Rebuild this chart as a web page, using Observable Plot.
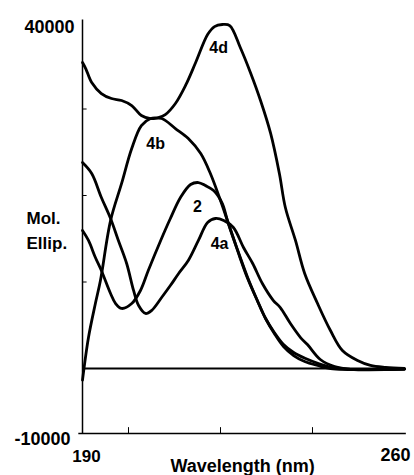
<!DOCTYPE html>
<html>
<head>
<meta charset="utf-8">
<script src="https://cdn.jsdelivr.net/npm/d3@7"></script>
<script src="https://cdn.jsdelivr.net/npm/@observablehq/plot@0.6"></script>
<style>
  html, body { margin: 0; padding: 0; background: #fff; }
  svg { display: block; }
</style>
</head>
<body>
<div id="chart"></div>
<script>
// Wavelength (nm), molar ellipticity
const series4d = [[190,-1800],[191.3,3580],[192.8,7510],[193.9,10170],[196.1,17100],[198.5,21390],[200.7,25430],[202.8,28090],[204.8,28900],[206.5,29020],[208.0,29360],[210.2,30640],[212.4,32720],[214.6,35370],[217.2,38610],[218.7,39530],[220.4,39770],[222.0,39650],[224.3,37110],[226.5,34220],[228.7,30980],[230.9,27170],[232.8,22540],[234.1,18610],[236.3,14800],[238.3,10980],[241.1,7510],[243.9,4390],[246.5,2080],[249.8,920],[252.6,350],[255.9,120],[260,0]];
const series4b = [[190,35370],[190.7,34680],[192.0,33060],[194.1,31790],[196.3,31210],[198.5,30980],[200.7,30400],[202.8,29250],[204.8,28900],[207.2,28900],[210.2,27740],[213.0,26590],[215.7,24850],[217.8,22540],[220.0,19420],[221.5,17110],[223.0,14800],[224.3,12720],[225.9,10400],[228.0,7860],[229.8,5780],[231.7,4160],[233.7,2770],[235.9,1850],[238.5,1160],[241.3,580],[244.3,120],[248.3,-120],[260,-100]];
const series2 = [[190,15950],[191.3,14800],[192.8,12830],[194.1,11330],[196.1,8670],[197.2,7510],[198.5,6940],[200.7,7510],[202.6,9020],[204.3,11330],[207.0,14800],[209.1,17340],[211.3,19770],[213.5,21270],[215.2,21500],[216.7,21150],[218.5,20580],[220.4,19070],[221.5,17110],[222.8,15030],[224.3,12830],[225.9,10520],[228.0,7860],[229.8,5780],[231.7,4050],[233.7,2540],[235.9,1500],[238.3,810],[241.1,350],[243.9,0],[260,-100]];
const series4a = [[190,23810],[192.0,22540],[194.1,19770],[196.1,17340],[197.8,14800],[199.6,12140],[201.1,9020],[202.2,7280],[203.7,6360],[205.0,6700],[207.2,8210],[209.1,9590],[210.9,10980],[213.0,12480],[215.2,14800],[217.2,16880],[218.9,17340],[220.7,17110],[222.8,16300],[225.0,13990],[227.0,12140],[229.1,9830],[231.5,7860],[233.0,7050],[235.2,5200],[237.4,3580],[238.9,2770],[241.7,1040],[244.8,230],[248.3,-120],[260,-100]];

const seriesNames = ["4d", "4b", "2", "4a"];
// label anchor (wavelength, ellipticity) for each series name
const seriesLabelAt = [[219.6, 37100], [205.9, 26000], [215.0, 18700], [219.8, 14450]];

const yTickValues = [40000, -10000];
const yTickLabels = ["40000", "-10000"];
const yMinorTicks = [10000, 20000, 30000];
const xTickValues = [190, 260];
const xTickLabels = ["190", "260"];
const xMinorTicks = [200, 220, 240];
const xTitle = "Wavelength (nm)";
const yTitle = ["Mol.", "Ellip."];
const yTitleAt = [17300, 14400];

const toRows = (arr, name) => arr.map(([x, y]) => ({x, y, name}));
const allSeries = [series4d, series4b, series2, series4a];
const rows = allSeries.flatMap((s, i) => toRows(s, seriesNames[i]));
const labelRows = seriesNames.map((n, i) => ({name: n, x: seriesLabelAt[i][0], y: seriesLabelAt[i][1]}));

const font = "'Liberation Sans', Arial, Helvetica, sans-serif";
const bold = {fontWeight: "bold", fill: "#000"};

const chart = Plot.plot({
  width: 414,
  height: 475,
  marginLeft: 0, marginRight: 0, marginTop: 0, marginBottom: 0,
  style: {fontFamily: font, background: "#fff", overflow: "visible"},
  x: {type: "linear", domain: [190, 260], range: [82, 404], axis: null},
  y: {type: "linear", domain: [-10000, 0, 40000], range: [433, 368, 22], axis: null},
  marks: [
    // frame lines
    Plot.ruleX([190], {y1: -10000, y2: 40300, stroke: "#000", strokeWidth: 1.5}),
    Plot.ruleY([-10000], {x1: 189.2, x2: 260.4, stroke: "#000", strokeWidth: 1.5}),
    Plot.ruleY([0], {x1: 190, x2: 260, stroke: "#000", strokeWidth: 2.2}),
    // minor ticks
    Plot.ruleY(yMinorTicks, {x1: 190, x2: 191, stroke: "#000", strokeWidth: 1}),
    Plot.ruleX(xMinorTicks, {y1: -10000, y2: -9100, stroke: "#000", strokeWidth: 1}),
    // curves
    Plot.line(rows, {x: "x", y: "y", z: "name", stroke: "#000", strokeWidth: 2.8, curve: "catmull-rom"}),
    // series labels
    Plot.text(labelRows, {x: "x", y: "y", text: "name", fontSize: 16, ...bold}),
    // y tick labels
    Plot.text([yTickValues[0]], {x: 190, y: d => d, text: () => yTickLabels[0], textAnchor: "end", dx: -8, dy: 5, fontSize: 18, ...bold}),
    Plot.text([yTickValues[1]], {x: 190, y: d => d, text: () => yTickLabels[1], textAnchor: "end", dx: -12, dy: 6, fontSize: 18, ...bold}),
    // x tick labels
    Plot.text([xTickValues[0]], {x: d => d, y: -10000, text: () => xTickLabels[0], textAnchor: "middle", dx: 4, dy: 23, fontSize: 17, ...bold}),
    Plot.text([xTickValues[1]], {x: d => d, y: -10000, text: () => xTickLabels[1], textAnchor: "end", dx: 6, dy: 22, fontSize: 18, ...bold}),
    // axis titles
    Plot.text([xTitle], {x: 224.8, y: -10000, text: d => d, dy: 33, fontSize: 18, ...bold}),
    Plot.text(yTitle, {x: 190, y: (d, i) => yTitleAt[i], text: d => d, textAnchor: "start", dx: -56, fontSize: 17, ...bold})
  ]
});
document.getElementById("chart").appendChild(chart);
</script>
</body>
</html>
